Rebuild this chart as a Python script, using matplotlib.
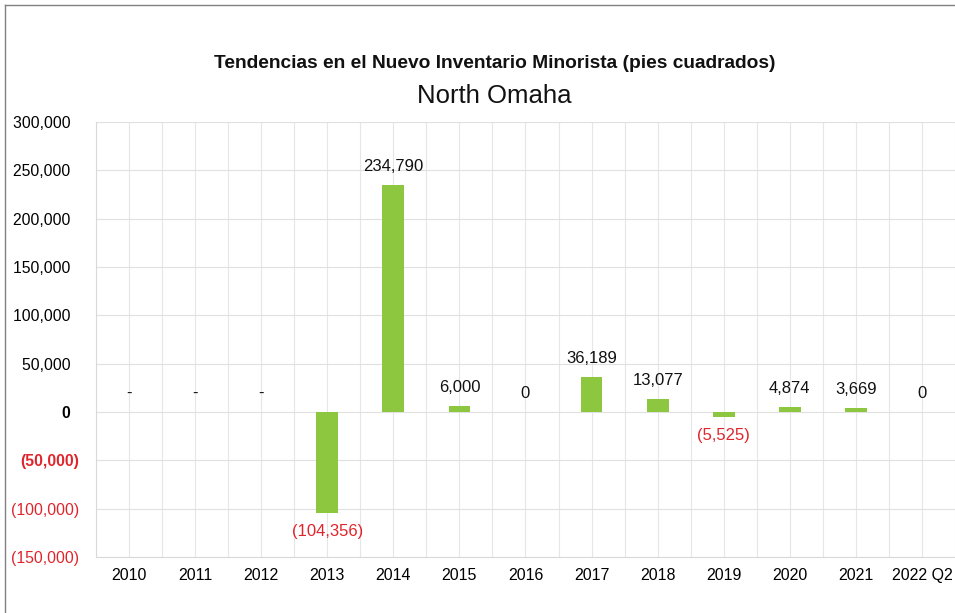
import matplotlib
matplotlib.use("Agg")
import matplotlib.pyplot as plt
from matplotlib.lines import Line2D
import numpy as np

plt.rcParams['font.family'] = ['Liberation Sans', 'DejaVu Sans']

categories = ["2010", "2011", "2012", "2013", "2014", "2015", "2016",
              "2017", "2018", "2019", "2020", "2021", "2022 Q2"]
values = [0, 0, 0, -104356, 234790, 6000, 0, 36189, 13077, -5525, 4874, 3669, 0]
zero_labels = ["-", "-", "-", None, None, None, "0", None, None, None, None, None, "0"]
yticks = [-150000, -100000, -50000, 0, 50000, 100000, 150000, 200000, 250000, 300000]

title1 = "Tendencias en el Nuevo Inventario Minorista (pies cuadrados)"
title2 = "North Omaha"

green = "#8DC63F"
red = "#E0242B"

fig = plt.figure(figsize=(9.55, 6.13), dpi=100)
ax = fig.add_axes([0.1005, 0.0914, 0.8995, 0.7096])

x = np.arange(len(categories))
ax.bar(x, values, width=0.33, color=green, zorder=3)

ax.set_xlim(-0.5, len(categories) - 0.5)
ax.set_ylim(-150000, 300000)

# grid
for g in np.arange(-0.5, len(categories), 0.5):
    ax.axvline(g, color="#e6e6e6", lw=0.8, zorder=1)
for t in yticks:
    ax.axhline(t, color="#e0e0e0", lw=0.8, zorder=1)

ax.set_yticks(yticks)
def fmt(v):
    if v < 0:
        return "({:,})".format(-v)
    return "{:,}  ".format(v)
ax.set_yticklabels([fmt(v) for v in yticks])
for lab, v in zip(ax.get_yticklabels(), yticks):
    lab.set_fontsize(11.3)
    if v < 0:
        lab.set_color(red)
    if v == 0 or v == -50000:
        lab.set_fontweight("bold")

ax.set_xticks(x)
ax.set_xticklabels(categories, fontsize=11.5)
ax.tick_params(axis="both", length=0, pad=8)
ax.tick_params(axis="y", pad=12)

for s in ["top", "right"]:
    ax.spines[s].set_visible(False)
for s in ["left", "bottom"]:
    ax.spines[s].set_color("#d9d9d9")
    ax.spines[s].set_linewidth(0.8)

# data labels
for xi, v, zl in zip(x, values, zero_labels):
    if v > 0:
        ax.annotate("{:,}".format(v), (xi, v), xytext=(0, 8), textcoords="offset points",
                    ha="center", va="bottom", fontsize=12, color="#111111")
    elif v < 0:
        ax.annotate("({:,})".format(-v), (xi, v), xytext=(0, -8), textcoords="offset points",
                    ha="center", va="top", fontsize=12, color=red)
    else:
        ax.annotate(zl, (xi, 0), xytext=(0, 8), textcoords="offset points",
                    ha="center", va="bottom", fontsize=12, color="#111111")

fig.text(0.518, 1 - 63 / 613, title1, ha="center", va="center", fontsize=13.8,
         fontweight="bold", color="#111111")
fig.text(0.518, 1 - 96 / 613, title2, ha="center", va="center", fontsize=18.5, color="#111111")

# figure frame (left and top edges)
fig.add_artist(Line2D([5 / 955, 5 / 955], [0, 1 - 5 / 613], transform=fig.transFigure,
                      color="#808080", lw=1))
fig.add_artist(Line2D([5 / 955, 1], [1 - 5 / 613, 1 - 5 / 613], transform=fig.transFigure,
                      color="#808080", lw=1))

fig.savefig("out.png", dpi=100)
